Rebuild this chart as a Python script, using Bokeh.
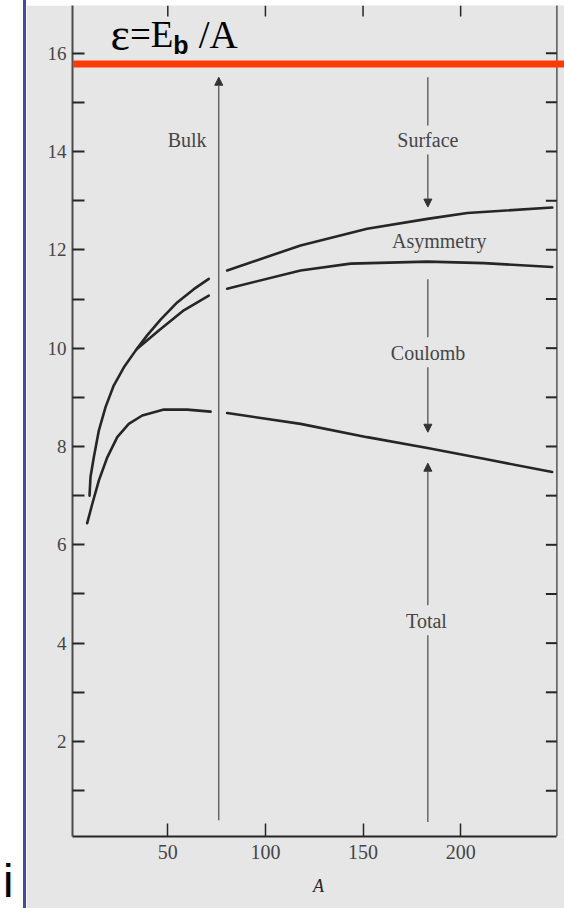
import math
from bokeh.plotting import figure
from bokeh.models import (FixedTicker, Span, Label, Arrow, NormalHead,
                          ColumnDataSource, Range1d, Div)
from bokeh.layouts import row, column
from bokeh.core.properties import value
from bokeh.embed import file_html
from bokeh.resources import INLINE

# ---------------- data ----------------
# Bulk - Surface  (upper curve)
surf_left_A = [9.9, 10.4, 12.1, 14.7, 18.1, 22.3, 27.5, 33.5, 39.4, 46.3, 54.8, 63.3, 71.0]
surf_left_E = [7.00, 7.38, 7.78, 8.33, 8.80, 9.24, 9.61, 9.95, 10.26, 10.58, 10.93, 11.20, 11.41]
surf_right_A = [80.4, 118.0, 152.1, 183.0, 203.4, 246.9]
surf_right_E = [11.58, 12.09, 12.43, 12.63, 12.75, 12.86]

# Bulk - Surface - Asymmetry  (middle curve)
asym_left_A = [34.3, 45.4, 58.2, 71.0]
asym_left_E = [9.99, 10.36, 10.77, 11.07]
asym_right_A = [80.4, 118.0, 143.6, 183.0, 211.9, 246.9]
asym_right_E = [11.21, 11.58, 11.72, 11.76, 11.73, 11.65]

# Total (lower curve)
total_left_A = [8.7, 11.3, 14.7, 19.0, 24.1, 30.0, 36.9, 48.0, 59.9, 71.9]
total_left_E = [6.44, 6.83, 7.31, 7.78, 8.19, 8.46, 8.63, 8.75, 8.75, 8.71]
total_right_A = [80.4, 118.0, 152.1, 183.0, 211.9, 246.9]
total_right_E = [8.68, 8.46, 8.19, 7.97, 7.75, 7.48]

# vertical arrows: x, start, end (arrow-headed pieces)
head_x = [76.1, 183.2, 183.2, 183.2]
head_y0 = [0.40, 13.94, 9.61, 4.77]
head_y1 = [15.51, 12.87, 8.29, 7.66]
# plain pieces (above the labels / below Total)
plain_x = [183.2, 183.2, 183.2]
plain_y0 = [15.51, 11.40, 0.36]
plain_y1 = [14.53, 10.22, 4.16]

# term labels
term_names = ["Bulk", "Surface", "Asymmetry", "Coulomb", "Total"]
term_A = [59.9, 183.2, 189.0, 183.3, 182.5]
term_E = [14.23, 14.24, 12.18, 9.91, 4.46]

# saturation value (red line)
eps_sat = 15.78

x_ticks = [50, 100, 150, 200]
y_ticks = [2, 4, 6, 8, 10, 12, 14, 16]
y_minor = [1, 3, 5, 7, 9, 11, 13, 15]

# ---------------- frame / styling ----------------
X0, X1 = 1.18, 253.2      # visible A range (frame runs to the page edge)
A_RIGHT = 249.3           # right border of the printed box
Y0, Y1 = 0.067, 16.97
BG = "#e6e6e6"
INK = "#262626"
TXT = "#454545"
SERIF = "Liberation Serif"
LEFT_W = 26
PW = 564 - LEFT_W
PH = 903

p = figure(width=PW, height=PH, output_backend="svg", toolbar_location=None,
           x_range=Range1d(X0, X1), y_range=Range1d(Y0, Y1),
           min_border_left=72 - LEFT_W, min_border_bottom=72, min_border_top=0, min_border_right=0,
           background_fill_color=BG, border_fill_color=BG, outline_line_color=None)
p.grid.visible = False

# bottom axis
xa = p.xaxis[0]
xa.ticker = FixedTicker(ticks=x_ticks, minor_ticks=[])
xa.bounds = (X0, A_RIGHT)
xa.major_tick_in = 13
xa.major_tick_out = 0
xa.minor_tick_in = 0
xa.minor_tick_out = 0
xa.axis_line_width = 2
xa.axis_line_color = INK
xa.major_tick_line_color = INK
xa.major_tick_line_width = 1.5
xa.major_label_text_font = SERIF
xa.major_label_text_font_size = "20px"
xa.major_label_text_color = TXT
xa.major_label_standoff = 8
xa.axis_label = "A"
xa.axis_label_text_font = SERIF
xa.axis_label_text_font_style = "italic"
xa.axis_label_text_font_size = "18px"
xa.axis_label_text_color = INK
xa.axis_label_standoff = 14

# left axis
ya = p.yaxis[0]
ya.ticker = FixedTicker(ticks=y_ticks, minor_ticks=y_minor)
ya.major_tick_in = 12
ya.major_tick_out = 0
ya.minor_tick_in = 12
ya.minor_tick_out = 0
ya.axis_line_width = 2
ya.axis_line_color = "#4a4a4a"
ya.major_tick_line_color = INK
ya.minor_tick_line_color = INK
ya.major_tick_line_width = 2
ya.minor_tick_line_width = 2
ya.major_label_text_font = SERIF
ya.major_label_text_font_size = "19px"
ya.major_label_text_color = TXT
ya.major_label_standoff = 6

# right border of the box with inward ticks
p.ray(x=[A_RIGHT], y=[Y0], length=0, angle=math.pi / 2, line_color="#555555", line_width=1.5)
p.ray(x=[A_RIGHT] * (len(y_ticks) + len(y_minor)), y=y_ticks + y_minor, length=11,
      length_units="screen", angle=math.pi, line_color=INK, line_width=2)
# top inward ticks
p.ray(x=x_ticks, y=[Y1] * len(x_ticks), length=11, length_units="screen",
      angle=-math.pi / 2, line_color=INK, line_width=1.5)

# curves
for xs, ys in [(surf_left_A, surf_left_E), (surf_right_A, surf_right_E),
               (asym_left_A, asym_left_E), (asym_right_A, asym_right_E),
               (total_left_A, total_left_E), (total_right_A, total_right_E)]:
    p.line(xs, ys, line_color=INK, line_width=2.6, line_cap="round")

# arrows
heads = ColumnDataSource(dict(x=head_x, y0=head_y0, y1=head_y1))
p.add_layout(Arrow(source=heads, x_start="x", y_start="y0", x_end="x", y_end="y1",
                   line_color="#555555", line_width=1.3,
                   end=NormalHead(size=8, fill_color="#333333", line_color="#333333", line_width=1)))
p.segment(x0=plain_x, y0=plain_y0, x1=plain_x, y1=plain_y1, line_color="#555555", line_width=1.3)

# term labels
p.text(x=term_A, y=term_E, text=term_names, text_font=value(SERIF), text_font_size="20px",
       text_color=TXT, text_align="center", text_baseline="middle")

# red saturation line
p.add_layout(Span(location=eps_sat, dimension="width", line_color="#ff3a00", line_width=7))

# formula  ε = E_b / A
p.add_layout(Label(x=30.5, y=16.38, text="ε", text_font=SERIF, text_font_size="46px",
                   text_color="black", text_baseline="alphabetic", text_align="right"))
p.add_layout(Label(x=52.9, y=16.38, text="=E", text_font=SERIF, text_font_size="37px",
                   text_color="black", text_baseline="alphabetic", text_align="right"))
p.add_layout(Label(x=52.8, y=16.16, text="b", text_font="Liberation Sans", text_font_style="bold",
                   text_font_size="25px", text_color="black", text_baseline="alphabetic",
                   text_align="left"))
p.add_layout(Label(x=75.8, y=16.38, text="/A", text_font=SERIF, text_font_size="39px",
                   text_color="black", text_baseline="alphabetic", text_align="center"))

# white margin strip with the blue rule and the stray "i"
left = Div(text='<span style="display:block; margin-top:855px; margin-left:3px; '
                'font-family:\'Liberation Sans\'; font-size:47px; line-height:52px; color:black">i</span>',
           width=LEFT_W, height=908,
           styles={"background-color": "white", "border-right": "3px solid #4646b4",
                   "box-sizing": "border-box", "overflow": "hidden", "margin": "0", "padding": "0"})
top = Div(text="", width=PW, height=5,
          styles={"background-color": "white", "margin": "0", "padding": "0"})

layout = row(left, column(top, p, spacing=0), spacing=0)
open("out.html", "w").write(file_html(layout, INLINE))
